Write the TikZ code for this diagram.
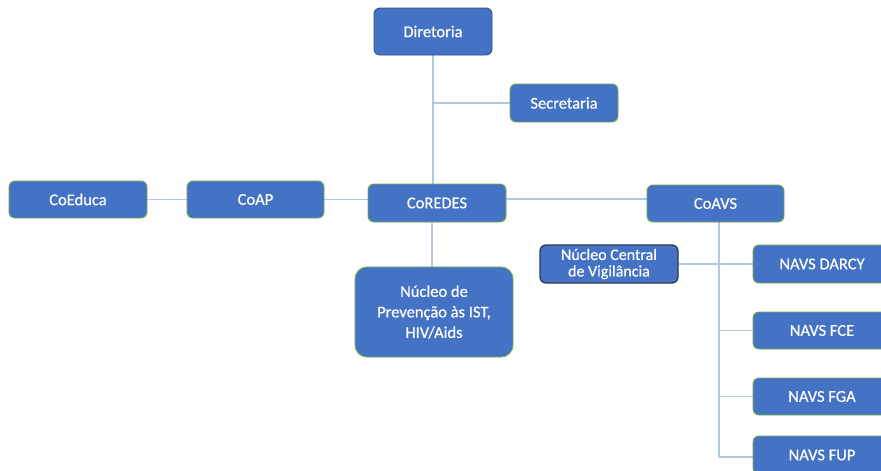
\documentclass[tikz,border=0pt]{standalone}
\usepackage{fontspec}
\setmainfont{Carlito}[BoldFont=Carlito, BoldFeatures={FakeBold=0.45}]
\usetikzlibrary{backgrounds}
\definecolor{boxblue}{HTML}{4472C4}
\definecolor{boxgreen}{HTML}{70AD47}
\definecolor{linkblue}{HTML}{B4C7E7}
\definecolor{darkedge}{HTML}{2F3B52}
\tikzset{
  orgbox/.style={draw=boxgreen, line width=0.9pt, fill=boxblue, rounded corners=6pt,
    text=white, font=\fontsize{16.5}{19}\selectfont\bfseries, align=center, inner sep=2pt},
  link/.style={draw=linkblue, line width=1.4pt}
}
\begin{document}
\begin{tikzpicture}[x=1pt,y=-1pt]
\useasboundingbox (0,0) rectangle (881,471);
\clip (0,0) rectangle (881,471);
% nodes
\node[orgbox, draw=boxblue!70!black, minimum width=118pt, minimum height=47pt] (dir) at (433,31.5) {Diretoria};
\node[orgbox, minimum width=108pt, minimum height=38pt] (sec) at (564,103) {Secretaria};
\node[orgbox, minimum width=138pt, minimum height=37pt] (coed) at (78,199.5) {CoEduca};
\node[orgbox, minimum width=137pt, minimum height=37pt] (coap) at (255.5,199.5) {CoAP};
\node[orgbox, minimum width=138pt, minimum height=38pt] (cored) at (437,203) {CoREDES};
\node[orgbox, minimum width=137pt, minimum height=37pt] (coavs) at (715.5,203.5) {CoAVS};
\node[orgbox, draw=darkedge, line width=1.3pt, minimum width=138pt, minimum height=38pt, font=\fontsize{16}{16.5}\selectfont\bfseries] (nuc) at (609,264) {Núcleo Central\\de Vigilância};
\node[orgbox, minimum width=138pt, minimum height=38pt] (darcy) at (822,264) {NAVS DARCY};
\node[orgbox, minimum width=138pt, minimum height=37pt] (fce) at (822,330.5) {NAVS FCE};
\node[orgbox, minimum width=138pt, minimum height=37pt] (fga) at (822,396.5) {NAVS FGA};
\node[orgbox, minimum width=138pt, minimum height=38pt] (fup) at (822,455) {NAVS FUP};
\node[orgbox, rounded corners=12pt, minimum width=158pt, minimum height=90pt, font=\fontsize{16.5}{20.5}\selectfont\bfseries] (prev) at (434,312) {Núcleo de\\Prevenção às IST,\\HIV/Aids};
% connectors
\coordinate (spine) at (719,457);
\coordinate (pv) at (432,0);
\coordinate (hy) at (0,199);
\begin{scope}[on background layer]
\fill[white] (0,0) rectangle (881,471);
\draw[link] (dir.south) -- (dir.south |- cored.north);
\draw[link] (dir.south |- sec.west) -- (sec.west);
\draw[link] (coed.east) -- (coap.west);
\draw[link] (coap.east) -- (coap.east -| cored.west);
\draw[link] (cored.east |- hy) -- (coavs.west |- hy);
\draw[link] (pv |- cored.south) -- (pv |- prev.north);
\draw[link] (spine |- coavs.south) -- (spine);
\draw[link] (nuc.east) -- (darcy.west);
\draw[link] (spine |- fce.west) -- (fce.west);
\draw[link] (spine |- fga.west) -- (fga.west);
\draw[link] (spine) -- (spine -| fup.west);
\end{scope}
\end{tikzpicture}
\end{document}
